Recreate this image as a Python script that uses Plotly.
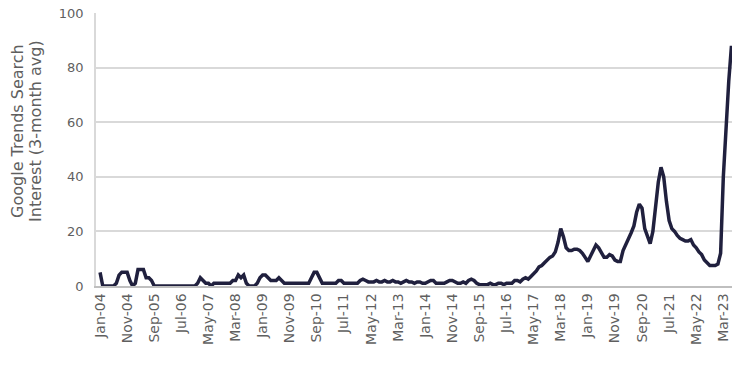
import pandas as pd
import plotly.graph_objects as go

# Monthly categories Jan-04 .. Jun-23
start_month = "2004-01-01"
interest = [
    5, 0, 0, 0, 0, 0, 1, 4, 5, 5,
    5, 2, 0, 1, 6, 6, 6, 3, 3, 2,
    0, 0, 0, 0, 0, 0, 0, 0, 0, 0,
    0, 0, 0, 0, 0, 0, 1, 3, 2, 1,
    1, 0, 1, 1, 1, 1, 1, 1, 1, 2,
    2, 4, 3, 4, 1, 0, 0, 0, 1, 3,
    4, 4, 3, 2, 2, 2, 3, 2, 1, 1,
    1, 1, 1, 1, 1, 1, 1, 1, 3, 5,
    5, 3, 1, 1, 1, 1, 1, 1, 2, 2,
    1, 1, 1, 1, 1, 1, 2, 2.5, 2, 1.5,
    1.5, 1.5, 2, 1.5, 1.5, 2, 1.5, 1.5, 2, 1.5,
    1.5, 1, 1.5, 2, 1.5, 1.5, 1, 1.5, 1.5, 1,
    1, 1.5, 2, 2, 1, 1, 1, 1, 1.5, 2,
    2, 1.5, 1, 1, 1.5, 1, 2, 2.5, 2, 1,
    0.5, 0.5, 0.5, 0.5, 1, 0.5, 0.5, 1, 1, 0.5,
    1, 1, 1, 2, 2, 1.5, 2.5, 3, 2.5, 3.5,
    4.5, 5.5, 7, 7.5, 8.5, 9.5, 10.5, 11, 12.5, 16,
    21, 18, 14, 13, 13, 13.5, 13.5, 13, 12, 10.5,
    9, 11, 13, 15, 14, 12, 10.5, 10.5, 11.5, 11,
    9.5, 9, 9, 13, 15, 17, 19.5, 22, 27, 30,
    28.5, 21, 18, 15.5, 20, 30, 38, 43.5, 40, 31,
    24, 21, 20, 18.5, 17.5, 17, 16.5, 16.5, 17, 15,
    14, 12.5, 11.5, 9.5, 8.3, 7.5, 7.5, 7.5, 8, 12,
    40, 60, 75, 88,
]
months = list(pd.date_range(start_month, periods=len(interest), freq="MS").strftime("%b-%y"))

tick_labels = [
    "Jan-04", "Nov-04", "Sep-05", "Jul-06", "May-07", "Mar-08", "Jan-09", "Nov-09",
    "Sep-10", "Jul-11", "May-12", "Mar-13", "Jan-14", "Nov-14", "Sep-15", "Jul-16",
    "May-17", "Mar-18", "Jan-19", "Nov-19", "Sep-20", "Jul-21", "May-22", "Mar-23",
]
y_ticks = [0, 20, 40, 60, 80, 100]
title_lines = ["Google Trends Search", "Interest (3-month avg)"]

FONT = "DejaVu Sans"
GREY = "#5f5f5f"

fig = go.Figure()
fig.add_trace(go.Scatter(
    x=months, y=interest, mode="lines",
    line=dict(color="#20203e", width=3.5),
    hoverinfo="skip", showlegend=False,
))

fig.update_layout(
    width=735, height=387,
    margin=dict(l=96, r=3, t=13, b=101),
    paper_bgcolor="white", plot_bgcolor="white",
    font=dict(family=FONT, color=GREY, size=13),
    xaxis=dict(
        type="category",
        range=[-1.5, 233.2],
        tickmode="array", tickvals=tick_labels, ticktext=tick_labels,
        tickangle=-90, tickfont=dict(size=14, color=GREY, family=FONT),
        showgrid=False, showline=True, linecolor="#bfbfbf", linewidth=1.5,
        ticks="", zeroline=False,
    ),
    yaxis=dict(
        range=[0, 100], tickvals=y_ticks,
        tickfont=dict(size=13, color=GREY, family=FONT),
        showgrid=True, gridcolor="#d9d9d9", gridwidth=1.5,
        showline=True, linecolor="#d9d9d9", linewidth=1.5,
        zeroline=False, ticks="", ticklabelstandoff=8,
    ),
)

for line_text, xs in zip(title_lines, [-78, -60]):
    fig.add_annotation(
        text=line_text, xref="paper", yref="paper", x=0, y=0.568,
        xanchor="center", yanchor="middle", xshift=xs, textangle=-90,
        showarrow=False, font=dict(size=16, color=GREY, family=FONT),
    )

fig.write_html("out.html")
